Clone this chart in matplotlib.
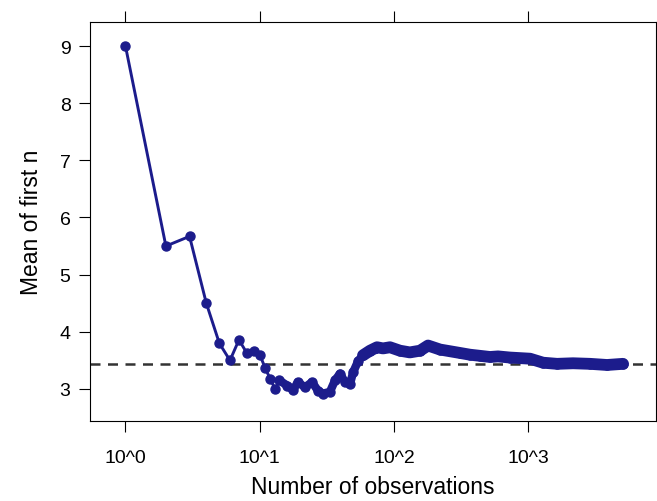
import numpy as np
import matplotlib.pyplot as plt

plt.rcParams['font.family'] = ['Liberation Sans', 'DejaVu Sans']

# running mean
n_obs = [1, 2, 3, 4, 5, 6, 7, 8, 9, 10, 11, 12, 13, 14,
         16, 17.7, 19.2, 21.7, 24.5, 27.1, 29.6, 33.3, 36.3, 39.6,
         43.1, 47, 49.5, 54, 58.7, 66.2, 74.6, 82.7, 93.2, 110.6,
         131, 156, 179, 220, 261, 310, 367, 436, 518, 594, 730,
         1028, 1285, 1635, 2149, 2876, 3849, 5063]
mean_n = [9.00, 5.50, 5.67, 4.50, 3.80, 3.50, 3.86, 3.63, 3.67, 3.60,
          3.36, 3.17, 3.00, 3.15,
          3.06, 2.98, 3.12, 3.03, 3.12, 2.97, 2.92, 2.95, 3.15, 3.27,
          3.12, 3.09, 3.29, 3.49, 3.59, 3.67, 3.73, 3.71, 3.73, 3.67,
          3.64, 3.67, 3.76, 3.69, 3.66, 3.63, 3.60, 3.58, 3.56, 3.57, 3.55,
          3.53, 3.46, 3.44, 3.45, 3.44, 3.42, 3.44]
overall_mean = 3.44

x_ticks = [1, 10, 100, 1000]
x_ticklabels = ['10^0', '10^1', '10^2', '10^3']
y_ticks = [3, 4, 5, 6, 7, 8, 9]

col = '#1c1c8c'

fig = plt.figure(figsize=(6.57, 5.02), dpi=100)
ax = fig.add_axes([90 / 657, 80 / 502, 566 / 657, 399 / 502])

ax.axhline(overall_mean, color='#333333', lw=1.8, ls=(0, (4, 3)), zorder=1)
ax.plot(n_obs, mean_n, color=col, lw=2.1, marker='o', ms=6.5, mec=col, mfc=col, zorder=2)
# dense part of the series: markers overlap into a band
ax.plot(n_obs[13:29], mean_n[13:29], color=col, lw=6, solid_capstyle='round',
        solid_joinstyle='round', zorder=2)
ax.plot(n_obs[28:], mean_n[28:], color=col, lw=8.5, solid_capstyle='round',
        solid_joinstyle='round', zorder=2)

ax.set_xscale('log')
ax.set_xlim(10 ** -0.264, 10 ** 3.95)
ax.set_ylim(2.44, 9.42)
ax.set_xticks(x_ticks)
ax.set_xticklabels(x_ticklabels)
ax.minorticks_off()
ax.set_yticks(y_ticks)
ax.tick_params(axis='x', which='both', direction='out', length=8, width=0.8,
               top=True, labeltop=False, pad=12, labelsize=14)
ax.tick_params(axis='y', direction='out', length=8, width=0.8, pad=6, labelsize=14)
for s in ax.spines.values():
    s.set_linewidth(0.8)

ax.set_xlabel('Number of observations', fontsize=16.5, labelpad=7)
ax.set_ylabel('Mean of first n', fontsize=16.5, labelpad=12)

fig.savefig('out.png', dpi=100)
